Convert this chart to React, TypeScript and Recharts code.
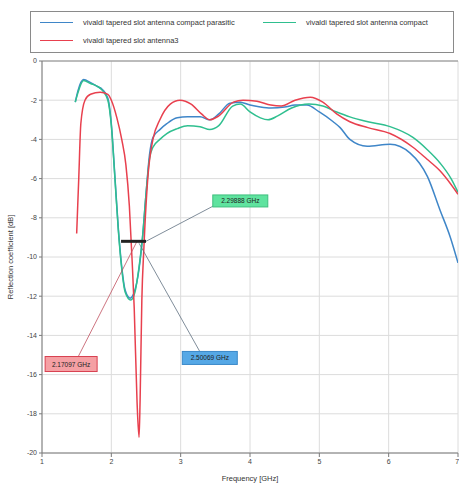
import {
  LineChart,
  Line,
  XAxis,
  YAxis,
  CartesianGrid,
  ReferenceLine,
  ReferenceDot,
} from "recharts";

// frequency [GHz] / reflection coefficient [dB]
const parasiticF = [1.48, 1.52, 1.6, 1.7, 1.8, 1.87, 1.95, 2.0, 2.05, 2.1, 2.15, 2.2, 2.27, 2.33, 2.4, 2.45, 2.5, 2.55, 2.6, 2.7, 2.8, 2.95, 3.1, 3.28, 3.42, 3.55, 3.71, 3.86, 4.0, 4.15, 4.3, 4.5, 4.65, 4.82, 5.0, 5.2, 5.3, 5.44, 5.69, 6.02, 6.31, 6.56, 6.74, 6.89, 7.0];
const parasiticDb = [-2.1, -1.5, -0.95, -1.1, -1.3, -1.45, -1.9, -3.2, -5.8, -8.5, -10.5, -11.7, -12.1, -11.8, -10.6, -9.0, -6.8, -4.8, -3.9, -3.5, -3.2, -2.9, -2.85, -2.85, -3.0, -2.7, -2.15, -2.1, -2.25, -2.35, -2.4, -2.35, -2.25, -2.25, -2.6, -3.1, -3.4, -4.0, -4.35, -4.25, -4.7, -5.9, -7.6, -9.0, -10.3];

const compactF = [1.48, 1.52, 1.6, 1.7, 1.8, 1.87, 1.95, 2.0, 2.05, 2.1, 2.15, 2.2, 2.28, 2.34, 2.4, 2.45, 2.5, 2.55, 2.6, 2.7, 2.8, 2.95, 3.1, 3.28, 3.42, 3.55, 3.75, 3.86, 4.0, 4.15, 4.26, 4.4, 4.6, 4.85, 5.05, 5.25, 5.44, 5.7, 6.02, 6.35, 6.55, 6.74, 6.9, 7.0];
const compactDb = [-2.1, -1.6, -1.0, -1.15, -1.3, -1.5, -2.0, -3.3, -5.9, -8.6, -10.6, -11.8, -12.2, -11.8, -10.5, -9.0, -6.8, -5.0, -4.4, -4.0, -3.7, -3.45, -3.3, -3.35, -3.5, -3.3, -2.3, -2.2, -2.6, -2.9, -3.0, -2.8, -2.4, -2.2, -2.3, -2.6, -2.85, -3.1, -3.35, -3.9, -4.5, -5.2, -6.0, -6.7];

const antenna3F = [1.5, 1.53, 1.56, 1.62, 1.7, 1.84, 1.95, 2.0, 2.08, 2.15, 2.21, 2.26, 2.3, 2.33, 2.37, 2.4, 2.415, 2.44, 2.47, 2.53, 2.6, 2.7, 2.85, 2.99, 3.15, 3.3, 3.42, 3.55, 3.76, 3.9, 4.1, 4.3, 4.45, 4.65, 4.87, 5.05, 5.25, 5.44, 5.7, 6.02, 6.35, 6.55, 6.74, 6.9, 7.0];
const antenna3Db = [-8.8, -6.0, -3.2, -2.0, -1.7, -1.6, -1.7, -2.0, -2.9, -4.0, -5.3, -7.4, -10.2, -12.6, -17.3, -19.2, -17.3, -12.2, -9.5, -5.8, -4.0, -3.0, -2.2, -2.0, -2.2, -2.7, -3.0, -2.8, -2.1, -2.0, -2.05, -2.25, -2.3, -2.0, -1.85, -2.1, -2.7, -3.1, -3.4, -3.7, -4.4, -5.0, -5.6, -6.3, -6.8];

const xTicks = [1, 2, 3, 4, 5, 6, 7];
const yTicks = [0, -2, -4, -6, -8, -10, -12, -14, -16, -18, -20];

// marker annotations: label, box position, leader line start
const markerLabels = ["2.29888 GHz", "2.50069 GHz", "2.17097 GHz"];
const markerBoxF = [3.86, 3.42, 1.42];
const markerBoxDb = [-7.14, -15.15, -15.46];
const leaderFromF = [2.5, 2.4, 2.37];
const leaderFromDb = [-9.2, -9.3, -9.2];
const leaderToF = [3.47, 3.28, 1.52];
const leaderToDb = [-7.4, -14.85, -15.1];
const bandStart = 2.14;
const bandEnd = 2.5;
const bandLevel = -9.2;

const series = [
  { name: "vivaldi tapered slot antenna compact parasitic", color: "#3f86c8", f: parasiticF, db: parasiticDb },
  { name: "vivaldi tapered slot antenna compact", color: "#2fbf8f", f: compactF, db: compactDb },
  { name: "vivaldi tapered slot antenna3", color: "#e8404e", f: antenna3F, db: antenna3Db },
];

const boxStyles = [
  { fill: "#5fe39f", stroke: "#3fbf7f", w: 55, h: 12 },
  { fill: "#55a8e6", stroke: "#3a88c8", w: 55, h: 13 },
  { fill: "#f5a0a4", stroke: "#d84050", w: 52, h: 15 },
];

const font = "'Liberation Sans', Arial, sans-serif";

const MarkerBox = (props: any) => {
  const { cx, cy, idx } = props;
  const s = boxStyles[idx];
  return (
    <g>
      <rect x={cx - s.w / 2} y={cy - s.h / 2} width={s.w} height={s.h} fill={s.fill} stroke={s.stroke} strokeWidth={1} />
      <text x={cx} y={cy + 2.5} textAnchor="middle" fontSize={6.5} fontFamily={font} fill="#222">
        {markerLabels[idx]}
      </text>
    </g>
  );
};

export default function App() {
  return (
    <div style={{ position: "absolute", left: 0, top: 0, width: 459, height: 486, background: "#fff", fontFamily: font }}>
      {/* Legend */}
      <div
        style={{
          position: "absolute",
          left: 30,
          top: 11,
          width: 422,
          height: 40,
          border: "1px solid #8a8a8a",
          background: "#fff",
          fontSize: 7.5,
          color: "#333",
          zIndex: 2,
        }}
      >
        {series.map((s, i) => {
          const left = i === 1 ? 232 : 9;
          const top = i === 2 ? 24 : 6;
          return (
            <div key={s.name} style={{ position: "absolute", left, top, display: "flex", alignItems: "center", whiteSpace: "nowrap" }}>
              <span style={{ display: "inline-block", width: 33, height: 0, borderTop: `1.5px solid ${s.color}`, marginRight: 10 }} />
              <span>{s.name}</span>
            </div>
          );
        })}
      </div>

      <LineChart width={459} height={486} margin={{ top: 61, right: 1, bottom: 0, left: 0 }}>
        <CartesianGrid stroke="#dcdcdc" strokeWidth={1} />
        <XAxis
          type="number"
          dataKey="f"
          domain={[1, 7]}
          ticks={xTicks}
          allowDataOverflow
          height={33}
          tick={{ fontSize: 7, fill: "#444", fontFamily: font }}
          tickSize={4}
          stroke="#7a7a7a"
          label={{ value: "Frequency [GHz]", position: "insideBottom", offset: 5, fontSize: 7.5, fill: "#333", fontFamily: font }}
        />
        <YAxis
          type="number"
          dataKey="db"
          domain={[-20, 0]}
          ticks={yTicks}
          allowDataOverflow
          width={42}
          tick={{ fontSize: 7, fill: "#444", fontFamily: font }}
          tickSize={3}
          stroke="#7a7a7a"
          label={{ value: "Reflection coefficient [dB]", angle: -90, position: "insideLeft", offset: 10, fontSize: 7.5, fill: "#333", fontFamily: font, style: { textAnchor: "middle" } }}
        />
        <ReferenceLine y={0} stroke="#8a8a8a" strokeWidth={1} />
        {series.map((s) => (
          <Line
            key={s.name}
            data={s.f.map((f, i) => ({ f, db: s.db[i] }))}
            dataKey="db"
            type="monotone"
            stroke={s.color}
            strokeWidth={1.5}
            dot={false}
            isAnimationActive={false}
          />
        ))}
        {markerLabels.map((l, i) => (
          <ReferenceLine
            key={"lead" + l}
            segment={[
              { x: leaderFromF[i], y: leaderFromDb[i] },
              { x: leaderToF[i], y: leaderToDb[i] },
            ]}
            stroke={i === 2 ? "#c05060" : "#607080"}
            strokeWidth={0.8}
          />
        ))}
        <ReferenceLine
          segment={[
            { x: bandStart, y: bandLevel },
            { x: bandEnd, y: bandLevel },
          ]}
          stroke="#222"
          strokeWidth={3}
        />
        {markerLabels.map((l, i) => (
          <ReferenceDot
            key={"box" + l}
            x={markerBoxF[i]}
            y={markerBoxDb[i]}
            r={1}
            shape={(p: any) => <MarkerBox {...p} idx={i} />}
          />
        ))}
      </LineChart>
    </div>
  );
}
